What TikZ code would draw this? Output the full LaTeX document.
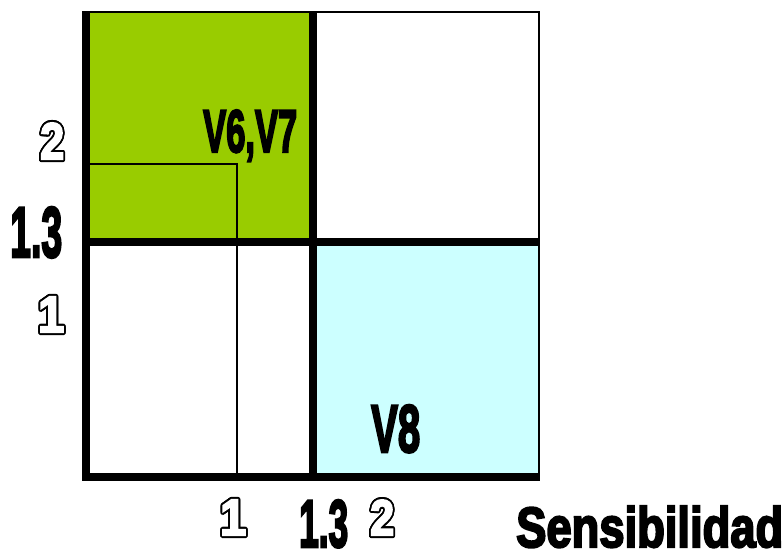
\documentclass[tikz,border=0pt]{standalone}
\usepackage{fontspec}
\usepackage{graphicx}
\usepackage{contour}
\newfontfamily\heavyfont[FakeBold=4]{Liberation Sans Bold}
\contourlength{2pt}
\definecolor{vgreen}{HTML}{99CC00}
\definecolor{vcyan}{HTML}{CCFFFF}
\newcommand{\heavytext}[3]{\resizebox{#1pt}{#2pt}{\fontsize{50pt}{50pt}\heavyfont #3}}
\newcommand{\hollowtext}[3]{\resizebox{#1pt}{#2pt}{\fontsize{50pt}{50pt}\heavyfont\textcolor{white}{\contour{black}{#3}}}}

\begin{document}
\begin{tikzpicture}[x=1pt,y=-1pt]
 \tikzstyle{lbl}=[inner sep=0pt, anchor=base west, text=black]
 \tikzstyle{thickline}=[line width=7.5pt, line join=miter]
 \tikzstyle{thinline}=[line width=2pt]
 \useasboundingbox (0,0) rectangle (783,548);
 %
 \fill[vgreen] (86,12) rectangle (313,242);
 \fill[vcyan] (313,242) rectangle (539,477);
 %
 \draw[thinline] (82,12) -- (539,12) -- (539,477);
 \draw[thinline] (86,164) -- (237,164) -- (237,477);
 \draw[thickline] (86,12) -- (86,477) -- (540,477);
 \draw[thickline] (313,12) -- (313,477);
 \draw[thickline] (86,242) -- (539,242);
 %
 \node[lbl] (y2) at (40,159) {\hollowtext{24}{36}{2}};
 \node[lbl] (y13) at (10,257) {\heavytext{52}{50}{1.3}};
 \node[lbl] (y1) at (38,332) {\hollowtext{26}{35}{1}};
 %
 \node[lbl] (x1) at (220,535) {\hollowtext{26}{35}{1}};
 \node[lbl] (x13) at (299,547) {\heavytext{49}{47}{1.3}};
 \node[lbl] (x2) at (370,535) {\hollowtext{24}{35}{2}};
 \node[lbl] (xlabel) at (516,547) {\heavytext{267}{41}{Sensibilidad}};
 %
 \node[lbl] (v67) at (203,152) {\heavytext{94}{42}{V6,V7}};
 \node[lbl] (v8) at (371,452) {\heavytext{49}{47}{V8}};
\end{tikzpicture}
\end{document}
